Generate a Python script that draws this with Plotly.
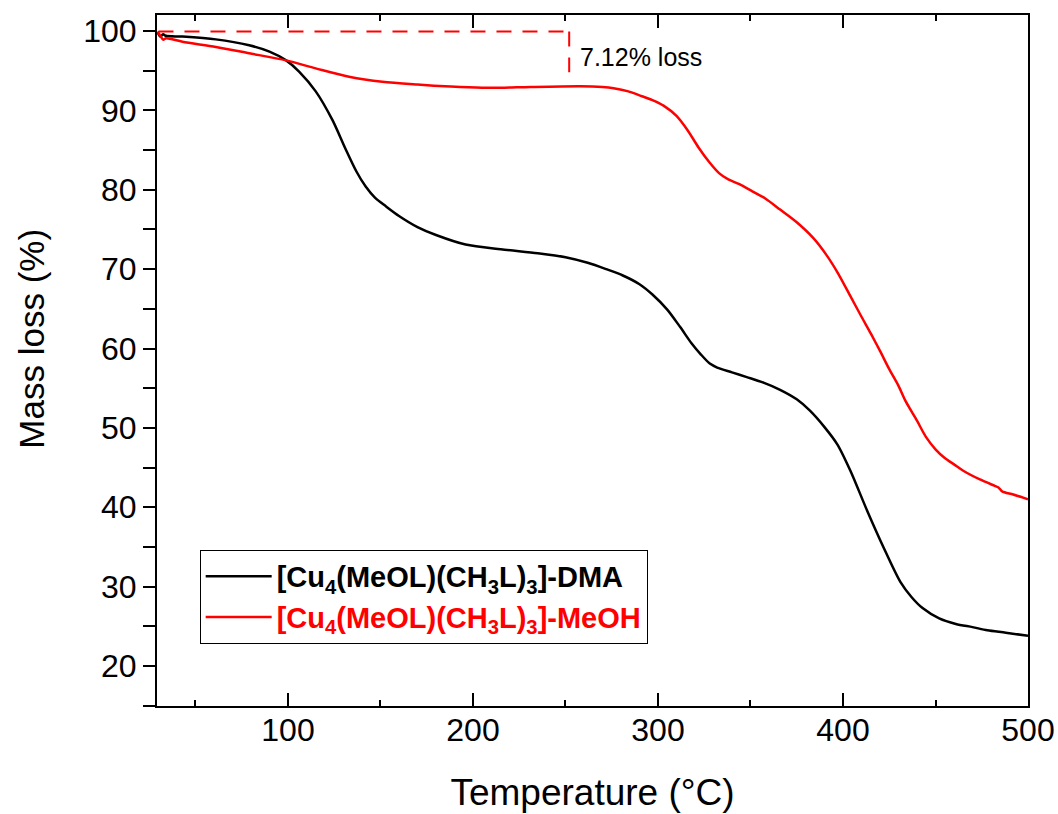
import plotly.graph_objects as go

# ---- data ----
temp_dma = [29.5, 31, 32.5, 34, 43, 61, 79, 90, 99, 106, 115, 124, 131, 137, 142, 147, 153, 160, 170, 180, 196,
            215, 235, 250, 262, 272, 281, 290, 297, 305, 312, 318, 323, 328, 332, 340, 348, 357, 366, 375,
            382, 390, 397, 404, 413, 422, 431, 437, 443, 452, 461, 470, 478, 488, 500]
mass_dma = [99.9, 99.3, 99.6, 99.4, 99.3, 98.95, 98.2, 97.4, 96.3, 94.9, 92.4, 88.8, 85.2, 82.3, 80.4, 79.0,
            77.9, 76.7, 75.3, 74.3, 73.1, 72.5, 72.0, 71.5, 70.8, 70.0, 69.2, 68.1, 66.8, 64.9, 62.7, 60.7,
            59.3, 58.1, 57.6, 57.0, 56.4, 55.7, 54.8, 53.6, 52.2, 50.1, 47.9, 44.6, 39.6, 34.9, 30.6, 28.7,
            27.3, 26.0, 25.3, 24.9, 24.5, 24.2, 23.8]

temp_meoh = [29.5, 31, 32.6, 34, 43, 61, 79, 99, 115, 133, 151, 170, 188, 205, 215, 231, 258, 270, 276,
             284, 290, 297, 303, 310, 316, 322, 328, 333, 338, 344, 351, 358, 366, 375, 384, 391,
             397, 404, 410, 415, 420, 425, 430, 434, 440, 445, 450, 455, 460, 465, 474, 482, 484, 486, 492, 500]
mass_meoh = [99.9, 99.4, 98.9, 99.1, 98.65, 98.0, 97.2, 96.3, 95.3, 94.25, 93.6, 93.25, 93.0, 92.85, 92.85,
             92.95, 93.05, 92.95, 92.8, 92.4, 91.9, 91.3, 90.6, 89.3, 87.5, 85.3, 83.4, 82.1, 81.3, 80.7,
             79.8, 78.9, 77.5, 75.9, 73.9, 71.8, 69.6, 66.6, 64.0, 61.9, 59.7, 57.4, 55.3, 53.3,
             50.9, 48.8, 47.3, 46.2, 45.4, 44.6, 43.5, 42.7, 42.5, 42.0, 41.6, 41.0]

names = ["<b>[Cu<sub>4</sub>(MeOL)(CH<sub>3</sub>L)<sub>3</sub>]-DMA</b>",
         "<span style='color:#ff0000'><b>[Cu<sub>4</sub>(MeOL)(CH<sub>3</sub>L)<sub>3</sub>]-MeOH</b></span>"]
colors = ["#000000", "#ff0000"]

loss_text = "7.12% loss"
loss_start_t, loss_end_t = 30, 252
loss_top, loss_bottom = 99.95, 94.8

FONT = "Liberation Sans, Arial, sans-serif"

fig = go.Figure()
fig.add_trace(go.Scatter(x=temp_dma, y=mass_dma, mode="lines", name=names[0],
                         line=dict(color=colors[0], width=2.5, shape="spline", smoothing=0.8)))
fig.add_trace(go.Scatter(x=temp_meoh, y=mass_meoh, mode="lines", name=names[1],
                         line=dict(color=colors[1], width=2.5, shape="spline", smoothing=0.8)))

# dashed marker of the first loss step
fig.add_shape(type="line", x0=loss_start_t, x1=loss_end_t, y0=loss_top, y1=loss_top,
              xref="x", yref="y", line=dict(color="#ff0000", width=2, dash="15px,11px"))
fig.add_shape(type="line", x0=loss_end_t, x1=loss_end_t, y0=loss_top, y1=loss_bottom,
              xref="x", yref="y", line=dict(color="#ff0000", width=2, dash="15px,11px"))
fig.add_annotation(x=loss_end_t + 5, y=96.7, text=loss_text, showarrow=False,
                   xanchor="left", yanchor="middle", font=dict(size=25, color="#000000", family=FONT))

# y axis title (placed as annotation to match vertical position)
fig.add_annotation(x=-0.144, y=0.531, xref="paper", yref="paper", text="Mass loss (%)",
                   textangle=-90, showarrow=False, xanchor="center", yanchor="middle",
                   font=dict(size=35, family=FONT, color="#000000"))

fig.update_layout(
    width=1058, height=814,
    margin=dict(l=157, r=30, t=15, b=108, autoexpand=False),
    paper_bgcolor="white", plot_bgcolor="white",
    font=dict(family=FONT, color="#000000"),
    showlegend=True,
    legend=dict(x=0.049, y=0.226, xanchor="left", yanchor="top",
                bordercolor="#000000", borderwidth=1, bgcolor="white",
                font=dict(size=29, family=FONT, color="#000000"),
                tracegroupgap=0, itemwidth=66),
)

fig.update_xaxes(
    range=[29.2, 500], tick0=0, dtick=100, automargin=False,
    showline=True, linecolor="#000000", linewidth=2, mirror="ticks",
    ticks="inside", ticklen=13, tickwidth=2, tickcolor="#000000",
    minor=dict(dtick=50, ticks="inside", ticklen=6, tickwidth=2, tickcolor="#000000"),
    showgrid=False, zeroline=False,
    tickfont=dict(size=32, family=FONT, color="#000000"),
    ticklabelstandoff=-5,
    title=dict(text="Temperature (°C)", font=dict(size=37, family=FONT, color="#000000"), standoff=32),
)
fig.update_yaxes(
    range=[14.96, 102.02], tick0=0, dtick=10, automargin=False,
    showline=True, linecolor="#000000", linewidth=2, mirror=True,
    ticks="outside", ticklen=12, tickwidth=2, tickcolor="#000000",
    minor=dict(dtick=5, ticks="outside", ticklen=12, tickwidth=2, tickcolor="#000000"),
    showgrid=False, zeroline=False,
    tickfont=dict(size=32, family=FONT, color="#000000"),
)

fig.write_html("out.html")
